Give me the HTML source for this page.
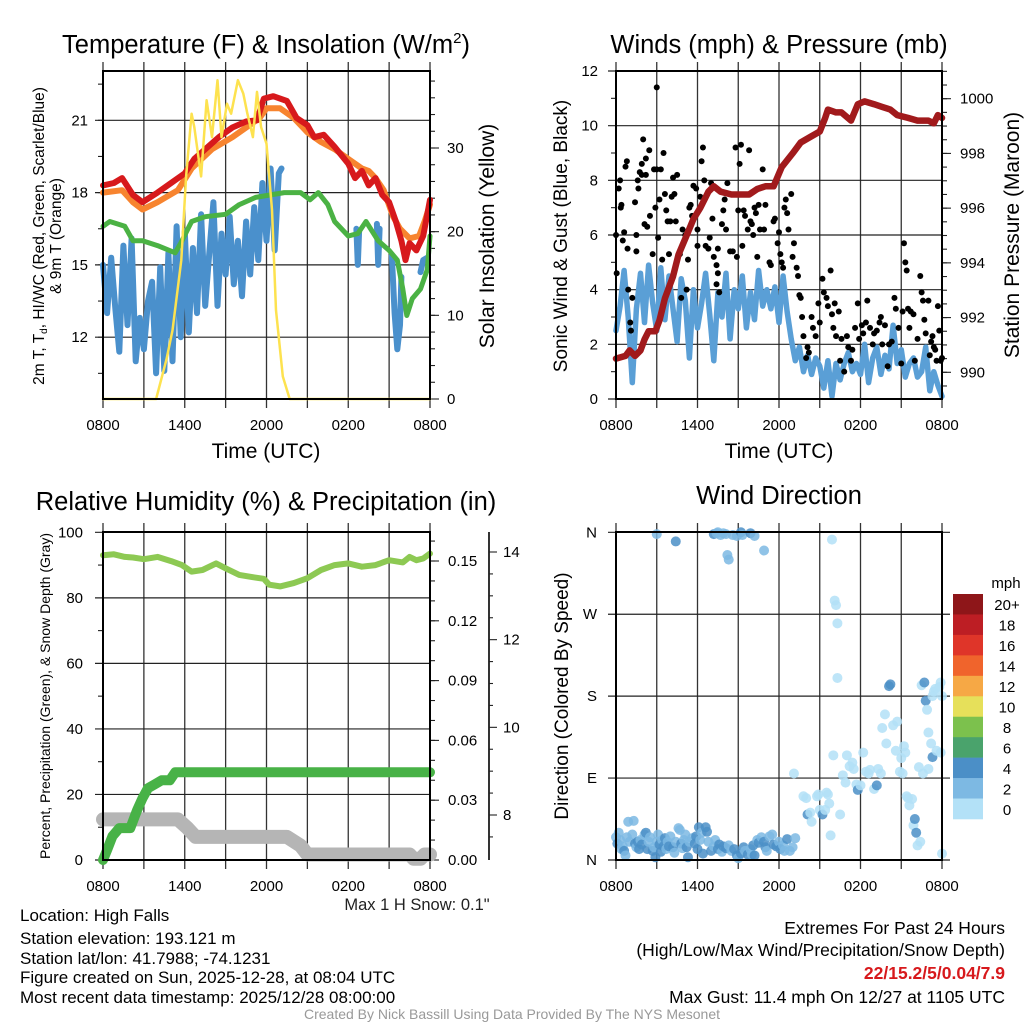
<!DOCTYPE html>
<html><head><meta charset="utf-8"><style>
html,body{margin:0;padding:0;background:#fff;}
svg{display:block;font-family:"Liberation Sans",sans-serif;}
</style></head><body>
<svg id="s" width="1024" height="1024" viewBox="0 0 1024 1024" xmlns="http://www.w3.org/2000/svg">
<g id="txt">
<text x="266" y="53" font-size="25.5" text-anchor="middle">Temperature (F) &amp; Insolation (W/m<tspan font-size="15" dy="-10">2</tspan><tspan dy="10">)</tspan></text>
<text x="779" y="53" font-size="25.5" text-anchor="middle">Winds (mph) &amp; Pressure (mb)</text>
<text x="266" y="510" font-size="25.5" text-anchor="middle">Relative Humidity (%) &amp; Precipitation (in)</text>
<text x="779" y="504" font-size="25.5" text-anchor="middle">Wind Direction</text>
<text x="266" y="458" font-size="21" text-anchor="middle">Time (UTC)</text>
<text x="779" y="458" font-size="21" text-anchor="middle">Time (UTC)</text>
<text transform="translate(44,236) rotate(-90)" font-size="15.5" text-anchor="middle">2m T, T<tspan font-size="10" dy="3">d</tspan><tspan dy="-3">, HI/WC (Red, Green, Scarlet/Blue)</tspan></text>
<text transform="translate(61,236) rotate(-90)" font-size="15.5" text-anchor="middle">&amp; 9m T (Orange)</text>
<text transform="translate(494,236) rotate(-90)" font-size="21" text-anchor="middle">Solar Insolation (Yellow)</text>
<text transform="translate(567,236) rotate(-90)" font-size="19" text-anchor="middle">Sonic Wind &amp; Gust (Blue, Black)</text>
<text transform="translate(1019,235) rotate(-90)" font-size="21" text-anchor="middle">Station Pressure (Maroon)</text>
<text transform="translate(50,696) rotate(-90)" font-size="14" text-anchor="middle">Percent, Precipitation (Green), &amp; Snow Depth (Gray)</text>
<text transform="translate(568,696) rotate(-90)" font-size="19" text-anchor="middle">Direction (Colored By Speed)</text>
<text x="417" y="910" font-size="16.5" text-anchor="middle" fill="#222">Max 1 H Snow: 0.1"</text>
<g font-size="17" fill="#000">
<text x="20" y="921">Location: High Falls</text>
<text x="20" y="944">Station elevation: 193.121 m</text>
<text x="20" y="964">Station lat/lon: 41.7988; -74.1231</text>
<text x="20" y="983">Figure created on Sun, 2025-12-28, at 08:04 UTC</text>
<text x="20" y="1003">Most recent data timestamp: 2025/12/28 08:00:00</text>
</g>
<g font-size="17.5" text-anchor="end">
<text x="1005" y="934">Extremes For Past 24 Hours</text>
<text x="1005" y="956">(High/Low/Max Wind/Precipitation/Snow Depth)</text>
<text x="1005" y="979" fill="#d7191c" font-weight="bold">22/15.2/5/0.04/7.9</text>
<text x="1005" y="1003">Max Gust: 11.4 mph On 12/27 at 1105 UTC</text>
</g>
<text x="512" y="1019" font-size="14" fill="#999" text-anchor="middle">Created By Nick Bassill Using Data Provided By The NYS Mesonet</text>
</g>
</svg>
<script>
// ---------- DATA ----------
const timeTicks = ["0800","1400","2000","0200","0800"];
const tempTicks = [12,15,18,21];
const solarTicks = [0,10,20,30];
const windTicks = [0,2,4,6,8,10,12];
const presTicks = [990,992,994,996,998,1000];
const rhTicks = [0,20,40,60,80,100];
const precTicks = ["0.00","0.03","0.06","0.09","0.12","0.15"];
const snowTicks = [8,10,12,14];
const dirTicks = ["N","E","S","W","N"];
const speedBins = ["0","2","4","6","8","10","12","14","16","18","20+"];
const speedColors = ["#b3e1f7","#7db9e3","#4b8fc7","#4aa36c","#7cc14d","#e6e05a","#f6a845","#f0642c","#df3529","#bd1e24","#8e1619"];

const redH = [0,0.8,1.4,2.2,2.9,4,5,6,6.7,7.5,8.5,9.5,10.5,11.3,11.8,12.5,13.5,14.2,15,15.5,16.2,17,18,18.5,19,19.5,20,20.5,21,21.5,21.9,22.2,22.5,23,23.5,24];
const redV = [18.3,18.4,18.6,17.9,17.6,18.0,18.4,18.8,19.4,19.8,20.3,20.7,20.95,21.0,21.9,22.0,21.8,21.1,20.8,20.3,20.4,19.9,19.2,18.6,18.9,18.3,18.6,17.9,17.6,16.8,16.0,15.2,15.9,15.6,16.2,17.7];
const orangeH = [0,1.4,2.2,2.9,4,5.5,6.5,8,9.5,10.5,11.5,12,13,14,15,16,17,18,19,19.5,20,20.6,21.3,21.8,22.5,23.2,23.6,24];
const orangeV = [18.0,18.1,17.6,17.3,17.6,18.1,19.0,19.8,20.3,20.7,21.1,21.5,21.5,21.1,20.5,20.1,19.8,19.4,19.0,18.9,18.6,18.1,17.0,16.5,16.1,16.2,16.8,17.5];
const greenH = [0,0.5,1.6,2.2,2.9,4,5.3,5.7,6.5,7.5,9,10,11.2,13.3,14.5,15.2,15.8,16.5,17,18,18.7,19.3,20.2,21,21.6,22,22.3,22.7,23.3,23.8,24];
const greenV = [16.6,16.8,16.6,16.0,16.0,15.8,15.5,15.9,16.8,17.0,17.1,17.5,17.8,18.0,18.0,17.7,18.0,17.5,16.8,16.2,16.3,16.8,16.0,15.6,15.2,14.0,12.9,13.6,14.0,14.8,16.2];
const blueH = [0,0.3,0.6,0.9,1.2,1.5,1.8,2.1,2.4,2.7,3.0,3.3,3.6,3.9,4.2,4.5,4.8,5.1,5.4,5.7,6.0,6.3,6.6,6.9,7.2,7.5,7.8,8.1,8.4,8.7,9.0,9.3,9.6,9.9,10.2,10.5,10.8,11.1,11.4,11.7,12.0,12.3,12.6,12.9,13.1,null,18.6,18.7,18.8,null,20.1,20.2,20.3,null,21.2,21.4,21.6,21.8,21.9,null,23.3,23.5,23.8];
const blueV = [15.0,13.0,15.3,13.2,11.4,15.8,12.5,16.1,11.0,12.8,11.5,13.5,14.3,10.5,14.9,10.6,15.5,11.0,16.6,12.0,16.4,12.2,15.7,13.0,17.1,13.3,15.5,17.6,13.3,16.3,14.6,17.0,14.2,16.0,13.7,16.8,14.6,17.4,15.2,18.4,16.0,19.0,15.6,18.8,19.0,null,16.5,15.0,16.4,null,16.7,15.0,16.5,null,15.4,13.0,11.5,12.5,14.5,null,14.7,15.2,15.3];
const solarH = [0,3.9,4.65,5.1,5.75,6.1,6.5,6.7,7.2,7.6,8.0,8.4,8.7,9.1,9.4,9.9,10.3,10.6,11.0,11.3,11.6,12.0,12.4,12.7,13.2,13.7,24];
const solarV = [0,0,4.7,8.2,16.6,26.6,34.1,32.5,26.6,35.7,31.3,38.1,31.3,35.3,34.1,38.1,36.5,34.1,31.3,36.7,32.5,30.5,22.6,10.6,2.7,0,0];

const presH = [0,0.7,1,1.4,1.8,2.1,2.4,2.9,3.2,3.6,4.2,4.6,5.2,5.7,6.2,6.8,7.2,7.7,8.5,9.2,9.8,10.4,11,11.6,12.2,13,13.6,14.3,15,15.4,15.6,16.2,16.6,17.3,17.8,18.3,19,19.6,20.2,20.7,21.5,22.2,23,23.4,23.7,24];
const presV = [990.5,990.6,990.8,990.6,990.8,991.2,991.5,991.5,991.9,992.7,993.5,994.3,995.0,995.6,996.0,996.6,996.8,996.6,996.5,996.5,996.5,996.7,996.8,996.8,997.5,998.0,998.4,998.6,998.8,999.3,999.6,999.5,999.5,999.2,999.8,999.9,999.8,999.7,999.6,999.4,999.3,999.2,999.2,999.1,999.4,999.3];
const sonicV = [2.5,3.4,4.7,3.0,0.6,3.3,4.6,2.8,4.9,3.5,2.5,4.8,2.9,4.5,3.3,2.1,4.4,3.6,1.5,4.0,2.6,3.5,4.6,3.1,1.4,3.9,3.0,4.6,2.2,4.0,3.3,4.5,2.6,3.9,2.9,4.7,3.4,4.0,3.3,4.1,2.8,4.5,3.2,2.2,1.4,1.9,1.0,1.6,0.9,1.5,1.2,0.4,1.4,0.1,1.3,0.7,1.3,1.7,1.0,1.3,0.9,2.0,0.6,1.5,1.9,0.9,1.6,1.1,2.7,1.3,1.8,0.8,1.3,1.5,0.8,1.0,1.9,0.3,1.0,0.5,0.1];
const gustH = [0,0.05,0.2,0.3,0.35,0.4,0.5,0.6,0.7,0.8,0.85,0.9,1.05,1.1,1.2,1.4,1.5,1.5,1.6,1.65,1.75,1.9,1.9,2.0,2.1,2.2,2.2,2.3,2.45,2.5,2.7,2.8,2.9,3.0,3.0,3.1,3.2,3.3,3.4,3.5,3.6,3.7,3.8,3.9,4.0,4.1,4.2,4.3,4.4,4.5,4.7,4.8,4.9,5.1,5.2,5.3,5.4,5.5,5.6,5.7,5.9,6.0,6.0,6.2,6.3,6.4,6.5,6.6,6.8,6.9,7.0,7.1,7.2,7.4,7.4,7.5,7.5,7.6,7.8,7.9,8.0,8.1,8.2,8.4,8.6,8.8,8.9,9.0,9.1,9.2,9.3,9.4,9.5,9.7,9.8,9.9,10.0,10.1,10.2,10.3,10.4,10.5,10.6,10.8,10.9,11.0,11.3,11.4,11.6,11.7,11.9,12.0,12.1,12.2,12.3,12.4,12.5,12.6,12.7,12.9,13.0,13.1,13.3,13.4,13.5,13.6,13.7,13.8,14.0,14.1,14.2,14.4,14.5,14.7,14.9,15.0,15.2,15.3,15.5,15.6,15.8,15.9,16.0,16.1,16.2,16.4,16.5,16.6,16.8,17.0,17.1,17.3,17.4,17.6,17.8,17.9,18.1,18.2,18.4,18.5,18.7,18.9,19.0,19.2,19.4,19.5,19.6,19.8,20.0,20.1,20.3,20.5,20.6,20.8,21.0,21.1,21.2,21.3,21.4,21.5,21.6,21.7,21.9,22.0,22.2,22.4,22.5,22.6,22.7,22.8,23.0,23.1,23.2,23.3,23.4,23.5,23.6,23.7,23.8,23.9,24.0];
const gustV = [6,4.6,7.7,8.0,7.0,7.1,5.8,6.1,8.5,8.7,5.5,4.0,2.8,2.5,3.7,7.2,6.0,5.4,8.0,7.7,8.3,8.2,8.6,9.5,6.4,8.8,8.2,6.3,9.1,6.7,5.3,8.4,7.0,11.4,8.4,5.9,7.3,8.4,5.1,9.0,7.5,6.9,6.5,5.3,6.5,7.4,8.1,7.5,6.5,8.2,5.3,3.7,6.2,6.0,4.0,5.1,7.0,7.1,6.7,7.8,7.7,6.2,5.6,7.4,8.7,9.2,8.0,5.6,5.5,5.9,7.9,6.6,5.2,4.9,4.2,4.6,5.5,3.9,6.4,6.9,7.3,6.2,7.9,5.4,5.4,9.2,5.2,6.9,8.6,9.3,5.6,6.9,6.7,6.2,9.1,6.5,6.4,6.0,7.0,6.8,5.2,7.1,6.2,8.4,6.2,7.1,5.0,4.9,6.5,6.6,5.7,6.1,5.3,5.0,4.8,7.0,7.3,6.8,6.2,7.5,5.2,5.7,4.8,4.5,3.8,3.7,3.0,2.3,1.5,1.9,1.7,3.0,2.6,2.3,3.5,2.8,4.4,3.9,3.7,3.4,4.7,3.1,2.6,3.5,2.3,3.2,1.4,2.2,1.0,2.3,1.9,1.4,1.8,2.6,3.5,2.2,2.7,2.4,2.8,3.6,2.6,2.0,2.4,2.5,2.8,3.0,2.0,2.7,1.2,2.0,2.1,3.7,3.3,2.6,1.3,3.2,5.7,5.0,4.7,3.3,2.6,3.2,3.1,1.4,2.2,4.5,3.9,3.6,2.9,2.4,3.6,1.6,2.1,2.3,1.9,1.8,1.4,3.4,2.5,1.4,1.5];

const rhH = [0,0.8,1.6,2.2,3.0,4.0,5.0,5.8,6.5,7.3,8.3,9.0,10,11,11.8,12.2,13,14,15,16,17,18,19,20,21,22,22.5,23,23.5,24];
const rhV = [93,93.3,92.5,92.3,91.8,92.5,91.2,90,88,88.5,90.5,89,87,86.3,85.8,84,83.5,84.5,86,88.5,90,90.5,89.5,90,91.5,90.8,92.5,91.5,92,93.5];
const precH = [0,0.3,0.7,1.2,1.5,2.0,2.5,2.9,3.3,3.8,4.3,4.9,5.3,5.7,24];
const precV = [0,0.005,0.012,0.016,0.016,0.016,0.025,0.031,0.036,0.038,0.040,0.040,0.044,0.044,0.044];
const snowH = [0,5.5,6.2,6.8,13.5,14.5,15.0,22.5,22.8,23.3,23.6,24];
const snowV = [7.9,7.9,7.7,7.5,7.5,7.3,7.1,7.1,7.0,7.0,7.1,7.1];

const dirH = [0,0.1,0.2,0.3,0.4,0.5,0.6,0.7,0.8,0.9,1.0,1.2,1.3,1.4,1.5,1.6,1.7,1.8,1.9,2.1,2.2,2.3,2.4,2.5,2.7,2.8,2.9,3.0,3.1,3.2,3.3,3.4,3.5,3.6,3.7,3.8,3.9,4.0,4.2,4.3,4.4,4.6,4.7,4.8,4.9,5.0,5.1,5.2,5.3,5.4,5.6,5.8,5.9,6.0,6.1,6.2,6.3,6.4,6.6,6.7,6.8,7.0,7.2,7.3,7.5,7.6,7.8,7.9,8.1,8.3,8.5,8.7,8.9,9.0,9.2,9.4,9.5,9.7,9.9,10.0,10.1,10.2,10.4,10.5,10.7,10.9,11.0,11.1,11.3,11.5,11.6,11.8,12.0,12.1,12.3,12.4,12.6,12.8,13.0,13.2,
 3.0,4.4,7.2,7.4,7.5,7.7,7.9,8.1,8.2,8.3,8.6,8.9,9.2,9.3,9.9,10.2,10.9,
 13.1,13.8,14.0,14.1,14.3,14.4,14.8,14.9,15.0,15.2,15.4,15.5,15.6,15.7,15.8,15.9,16.0,16.1,16.2,16.3,16.3,16.5,16.7,16.9,17.0,17.2,17.4,17.5,17.7,17.8,18.0,18.2,18.4,18.6,18.7,19.0,19.2,19.3,19.5,19.6,19.8,19.9,20.1,20.2,20.4,20.6,20.7,20.9,21.0,21.2,21.4,21.5,21.6,21.8,21.9,22.0,22.1,22.2,22.4,22.5,22.6,22.7,22.8,22.9,23.0,23.2,23.3,23.4,23.5,23.6,23.8,23.9,24.0,23.3,23.9,24.0,23.0,22.3,21.3,21.1];
const dirV = [25,18,30,22,12,15,10,5,25,42,20,28,43,18,14,20,12,22,17,28,30,12,20,25,10,14,3,20,28,17,9,22,15,24,12,20,15,26,14,8,20,35,33,18,13,22,28,14,3,20,24,18,26,12,36,22,30,7,36,31,20,10,15,22,12,17,9,15,13,16,10,12,5,2,7,14,10,6,12,6,16,5,22,19,25,20,14,10,26,28,17,15,20,12,16,10,23,10,14,24,
 358,350,358,359,360,357,359,358,335,330,357,356,360,357,359,356,340,
 95,70,68,50,52,42,70,72,55,50,55,74,72,62,27,352,115,285,280,260,200,50,93,85,115,103,107,100,83,77,82,118,97,95,99,78,82,100,95,145,160,128,191,193,148,120,152,97,112,125,70,68,60,67,38,45,30,16,20,192,95,195,175,165,140,128,113,185,188,120,190,195,7,180,118,180,100,102,118,95];
const dirS = [3,4,2.5,3,2,3,4.5,2,2.5,2.5,3,3,2.5,4,3.5,4,4.5,3.5,4,2.5,4.5,4,3,3,4,3,4.5,3.5,3,4,4,2.5,4,4.5,3,2.5,4.5,3,4,3,3,2.5,2,4,3,2.5,2.5,4,4.5,3.5,3,4,4.5,4,4.5,3,2.5,4.5,4.5,4.5,2.5,4,2,2,4,4.5,3,4,4.5,3,2.5,4,4.5,2.5,4,4.5,2,4,3,2.5,4,4.5,2.5,4.5,3,4,4,3,2.5,2.5,4.5,4,2,4.5,3.5,2.5,4,2,2.5,2.5,
 2.5,4,4,2.5,2.5,2.5,2,2,2.5,2.5,2.5,2,4.5,2.5,4.5,2.5,2.5,
 0.5,0.5,0.5,4,1,0.5,1,1,0.5,4,0.5,0.5,0.5,0.5,0.5,0.5,0.5,0.5,0.5,0.5,0.5,0.5,0.5,1.5,0.5,0.5,0.5,0.5,0.5,4,0.5,0.5,0.5,0.5,0.5,0.5,4,0.5,0.5,0.5,0.5,1,4,4,0.5,0.5,0.5,0.5,0.5,0.5,0.5,0.5,1.5,0.5,0.5,4,4,1,0.5,1,0.5,4,4,1,0.5,1,4,0.5,0.5,0.5,0.5,0.5,0.5,0.5,0.5,0.5,0.5,0.5,0.5,0.5];

// ---------- DRAWING ----------
const NS = "http://www.w3.org/2000/svg";
const svg = document.getElementById('s');
function mk(tag, attrs, parent){
  const e = document.createElementNS(NS, tag);
  for (const k in attrs) e.setAttribute(k, attrs[k]);
  (parent || svg).appendChild(e);
  return e;
}
function lin(d0,d1,r0,r1){ return v => r0 + (v-d0)/(d1-d0)*(r1-r0); }

function pathFrom(hs, vs, sx, sy){
  let d = "", pen = false;
  for (let i=0;i<hs.length;i++){
    if (hs[i]===null || vs[i]===null){ pen=false; continue; }
    d += (pen?"L":"M") + sx(hs[i]).toFixed(1) + "," + sy(vs[i]).toFixed(1);
    pen = true;
  }
  return d;
}
function series(g, name, hs, vs, sx, sy, color, w){
  const p = mk('path', {d: pathFrom(hs,vs,sx,sy), fill:'none', stroke:color, 'stroke-width':w, 'stroke-linejoin':'round', 'stroke-linecap':'round'}, g);
  
  
  return p;
}

function panelFrame(name, x0, x1, y0, y1, sx){
  const g = mk('g', {});
  
  
  for (let h=0; h<=24; h+=3){
    const x = sx(h);
    const l = mk('line', {x1:x, x2:x, y1:y0-9, y2:y1+9, stroke:'#333', 'stroke-width':1.3}, g);
    
    
  }
  timeTicks.forEach((t,i)=>{
    const tx = mk('text', {x:sx(i*6), y:y1+31, 'font-size':15, 'text-anchor':'middle'}, g);
    tx.textContent = t;
    
    
  });
  return g;
}
function hgrid(g, ys, x0, x1){
  ys.forEach(y=>{
    const l = mk('line', {x1:x0-8, x2:x1, y1:y, y2:y, stroke:'#222', 'stroke-width':1.2}, g);
    
    
  });
}
function ticksAt(g, ys, x, len){
  ys.forEach(y=>{ mk('line', {x1:x, x2:x+len, y1:y, y2:y, stroke:'#222', 'stroke-width':1.1}, g); });
}
function labels(g, vals, ys, x, anchor, size, name){
  vals.forEach((v,i)=>{
    const t = mk('text', {x:x, y:ys[i]+5, 'font-size':size, 'text-anchor':anchor}, g);
    t.textContent = v;
    
    
  });
}
function box(g, x0,x1,y0,y1){
  mk('rect', {x:x0, y:y0, width:x1-x0, height:y1-y0, fill:'none', stroke:'#000', 'stroke-width':2}, g);
}

// ===== Panel 1: temperature =====
(function(){
  const x0=103,x1=430,y0=71,y1=399;
  const sx = lin(0,24,x0,x1);
  const sy = lin(21,12,120.3,337.2);
  const sy2 = lin(0,30,399,148);
  const g = panelFrame('temperature-panel', x0,x1,y0,y1,sx);
  hgrid(g, tempTicks.map(sy), x0, x1);
  const minor=[]; for (let v=10.5; v<=22.6; v+=1.5) minor.push(sy(v));
  ticksAt(g, minor, x0-5, 5);
  labels(g, tempTicks, tempTicks.map(sy), 88, 'end', 15, 'temp-tick-label');
  ticksAt(g, solarTicks.map(sy2), x1, 9);
  const m2=[]; for (let v=2; v<=38; v+=2) m2.push(sy2(v));
  ticksAt(g, m2, x1, 5);
  labels(g, solarTicks, solarTicks.map(sy2), 447, 'start', 15, 'solar-tick-label');
  series(g,'blue-hiwc-line',blueH,blueV,sx,sy,'#4a90cc',6);
  series(g,'green-dewpoint-line',greenH,greenV,sx,sy,'#4bb244',5);
  series(g,'orange-9m-temp-line',orangeH,orangeV,sx,sy,'#f7842f',6);
  series(g,'red-2m-temp-line',redH,redV,sx,sy,'#d7191c',6);
  series(g,'yellow-solar-line',solarH,solarV,sx,sy2,'#fde24f',2.5);
  box(g,x0,x1,y0,y1);
})();

// ===== Panel 2: winds & pressure =====
(function(){
  const x0=616,x1=942,y0=71,y1=399;
  const sx = lin(0,24,x0,x1);
  const sy = lin(0,12,399,71);
  const sp = lin(990,1000,372.3,98.7);
  const g = panelFrame('winds-panel', x0,x1,y0,y1,sx);
  hgrid(g, windTicks.map(sy), x0, x1);
  const minor=[]; for (let v=1; v<12; v+=2) minor.push(sy(v));
  ticksAt(g, minor, x0-5, 5);
  labels(g, windTicks, windTicks.map(sy), 598, 'end', 15, 'wind-tick-label');
  ticksAt(g, presTicks.map(sp), x1, 9);
  const m2=[]; for (let v=989; v<=1001; v+=0.5) m2.push(sp(v));
  ticksAt(g, m2.filter(y=>y>y0&&y<y1), x1, 5);
  labels(g, presTicks, presTicks.map(sp), 960, 'start', 15, 'pressure-tick-label');
  const sonicH = sonicV.map((v,i)=>i*0.3);
  series(g,'sonic-wind-line',sonicH,sonicV,sx,sy,'#5a9fd6',5.5);
  gustH.forEach((h,i)=>{
    const c = mk('circle',{cx:sx(h),cy:sy(gustV[i]),r:3,fill:'#000'},g);
    
    
  });
  series(g,'pressure-line',presH,presV,sx,sp,'#a11a1c',6.5);
  box(g,x0,x1,y0,y1);
})();

// ===== Panel 3: RH & precip =====
(function(){
  const x0=103,x1=430,y0=532,y1=860;
  const sx = lin(0,24,x0,x1);
  const sy = lin(0,100,860,532.3);
  const spp = lin(0,0.15,860,561);
  const ss = lin(8,14,815,552);
  const g = panelFrame('humidity-panel', x0,x1,y0,y1,sx);
  hgrid(g, rhTicks.map(sy), x0, x1);
  const minor=[]; for (let v=10; v<100; v+=20) minor.push(sy(v));
  ticksAt(g, minor, x0-5, 5);
  labels(g, rhTicks, rhTicks.map(sy), 83, 'end', 15, 'rh-tick-label');
  const pt = precTicks.map(v=>spp(parseFloat(v)));
  ticksAt(g, pt, x1, 9);
  const m2=[]; for (let v=0.01; v<0.165; v+=0.01) m2.push(spp(v));
  ticksAt(g, m2.filter(y=>y>y0), x1, 5);
  labels(g, precTicks, pt, 448, 'start', 15, 'precip-tick-label');
  const ax = mk('line',{x1:489,x2:489,y1:532,y2:860,stroke:'#000','stroke-width':1.6},g);
  
  
  ticksAt(g, snowTicks.map(ss), 489, 8);
  const m3=[]; for (let v=7.5; v<=14.5; v+=0.5) if (v%2!==0) m3.push(ss(v));
  ticksAt(g, m3.filter(y=>y>532&&y<860), 489, 4);
  labels(g, snowTicks, snowTicks.map(ss), 503, 'start', 15, 'snow-tick-label');
  series(g,'snow-depth-line',snowH,snowV,sx,ss,'#b5b5b5',14);
  series(g,'precip-line',precH,precV,sx,spp,'#48b247',10);
  series(g,'rh-line',rhH,rhV,sx,sy,'#8dc953',6);
  box(g,x0,x1,y0,y1);
})();

// ===== Panel 4: wind direction =====
(function(){
  const x0=616,x1=942,y0=532,y1=860;
  const sx = lin(0,24,x0,x1);
  const sy = lin(0,360,860,532.3);
  const g = panelFrame('direction-panel', x0,x1,y0,y1,sx);
  const dy = dirTicks.map((d,i)=>sy(i*90));
  dy.forEach(y=>{ mk('line',{x1:x0-8,x2:x1+8,y1:y,y2:y,stroke:'#222','stroke-width':1.2},g); });
  labels(g, dirTicks, dy, 597, 'end', 15, 'direction-tick-label');
  dirH.forEach((h,i)=>{
    const bin = Math.min(10, Math.floor(dirS[i]/2));
    const c = mk('circle',{cx:sx(h),cy:sy(dirV[i]),r:5,fill:speedColors[bin],'fill-opacity':0.85},g);
    
    
  });
  box(g,x0,x1,y0,y1);
  const cb = mk('g',{},svg);
  
  
  const top=594, bot=819, bh=(bot-top)/speedBins.length;
  speedBins.forEach((b,i)=>{
    const k = speedBins.length-1-i;
    const r = mk('rect',{x:953,y:top+i*bh,width:30,height:bh+0.3,fill:speedColors[k]},cb);
    
    
    const t = mk('text',{x:1007,y:top+i*bh+bh/2+6,'font-size':15,'text-anchor':'middle'},cb);
    t.textContent = speedBins[k];
    
    
  });
  const u = mk('text',{x:1006,y:588,'font-size':15,'text-anchor':'middle'},cb);
  u.textContent='mph';
  
  
})();
</script>
</body></html>
